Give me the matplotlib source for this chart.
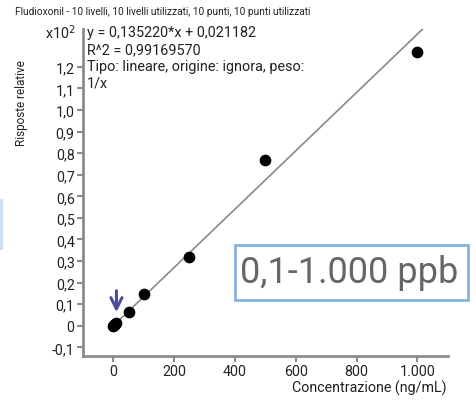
import numpy as np
import matplotlib
matplotlib.use('Agg')
import matplotlib.pyplot as plt
from matplotlib.patches import Rectangle

plt.rcParams['font.family'] = ['Roboto', 'DejaVu Sans']

# calibration data (y in x10^2)
conc = [0.1, 0.5, 1, 5, 10, 50, 100, 250, 500, 1000]
resp = [0.0, 0.002, 0.004, 0.006, 0.012, 0.065, 0.148, 0.32, 0.77, 1.27]
slope = 0.135220 / 100
intercept = 0.021182 / 100
fit_x = [0, 1030]

x_ticks = [0, 200, 400, 600, 800, 1000]
x_labels = ['0', '200', '400', '600', '800', '1.000']
y_ticks = [round(v, 1) for v in np.arange(-0.1, 1.25, 0.1)]
y_labels = ['0' if v == 0 else ('%.1f' % v).replace('.', ',') for v in y_ticks]

title = 'Fludioxonil - 10 livelli, 10 livelli utilizzati, 10 punti, 10 punti utilizzati'
eq_lines = ['y = 0,135220*x + 0,021182', 'R^2 = 0,99169570',
            'Tipo: lineare, origine: ignora, peso:', '1/x']
range_text = '0,1-1.000 ppb'

fig = plt.figure(figsize=(4.77, 4.02), dpi=100)
ax = fig.add_axes([0.174, 0.112, 0.765, 0.813])

gray = '#8c8c8c'
fx = np.array(fit_x)
ax.plot(fx, slope * fx + intercept, color='#8a8a8a', lw=1.2, zorder=2)
ax.scatter(conc, resp, s=55, color='black', zorder=3)

ax.annotate('', xy=(10, 0.05), xytext=(10, 0.175),
            arrowprops=dict(arrowstyle='->', color='#4b4b9b', lw=2.2,
                            mutation_scale=20))

ax.set_xlim(-100, 1100)
ax.set_ylim(-0.14, 1.375)
ax.set_xticks(x_ticks)
ax.set_xticklabels(x_labels)
ax.set_yticks(y_ticks)
ax.set_yticklabels(y_labels)
for s in ['top', 'right']:
    ax.spines[s].set_visible(False)
for s in ['left', 'bottom']:
    ax.spines[s].set_color(gray)
    ax.spines[s].set_linewidth(2)
ax.tick_params(colors=gray, length=4, width=1.5, labelsize=10.3,
               labelcolor='#222222', pad=2)

for i, line in enumerate(eq_lines):
    fig.text(87 / 477, 1 - (33 + 17 * i) / 402, line, fontsize=10.4,
             va='center', ha='left', color='#222222')

fig.text(15 / 477, 1 - 12 / 402, title, fontsize=7.3, va='center',
         ha='left', color='#222222',
         family=['Liberation Sans Narrow', 'Roboto', 'DejaVu Sans'])
fig.text(76 / 477, 1 - 33 / 402, 'x10$^2$', fontsize=10.3, va='center',
         ha='right', color='#222222')
fig.text(22 / 477, 1 - 103 / 402, 'Risposte relative', fontsize=8.5,
         rotation=90, va='center', ha='center', color='#222222')
fig.text(447 / 477, 1 - 388 / 402, 'Concentrazione (ng/mL)', fontsize=10.3,
         va='center', ha='right', color='#222222')

fig.patches.append(Rectangle((235 / 477, 1 - 301 / 402), 233 / 477, 55 / 402,
                             transform=fig.transFigure, fill=False,
                             edgecolor='#86b2e0', lw=2))
fig.text(349 / 477, 1 - 273 / 402, range_text, fontsize=26, va='center',
         ha='center', color='#666666')

fig.patches.append(Rectangle((0, 1 - 250 / 402), 2 / 477, 50 / 402,
                             transform=fig.transFigure, color='#cfe0f5'))

fig.savefig('out.png', dpi=100)
